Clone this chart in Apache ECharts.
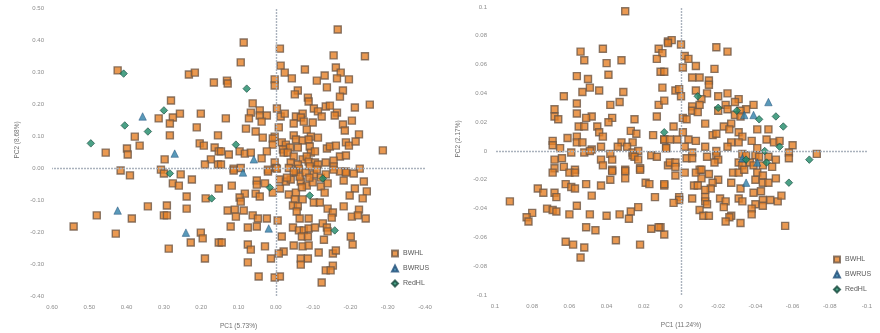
<!DOCTYPE html>
<html><head><meta charset="utf-8">
<style>html,body{margin:0;padding:0;background:#fff}#main{width:880px;height:333px;filter:blur(0.55px)}</style>
<script src="https://cdn.jsdelivr.net/npm/echarts@6/dist/echarts.min.js"></script>
</head><body><div id="main"></div>
<script>
const groupNames=['BWHL','BWRUS','RedHL'];
const leftXTicks=['-0.40','-0.30','-0.20','-0.10','0.00','0.10','0.20','0.30','0.40','0.50','0.60'];
const leftYTicks=['-0.40','-0.30','-0.20','-0.10','0.00','0.10','0.20','0.30','0.40','0.50'];
const rightTicks=['-0.1','-0.08','-0.06','-0.04','-0.02','0','0.02','0.04','0.06','0.08','0.1'];
const leftBWHL=[[.424,.305],[.233,.292],[.217,.298],[.166,.267],[.281,.211],[.257,.170],[.276,.158],[.314,.155],[.284,.139],[.201,.170],[.212,.127],[.378,.098],[.284,.102],[.365,.070],[.399,.061],[.397,.042],[.456,.048],[.155,.102],[.204,.077],[.193,.070],[.164,.064],[.153,.052],[.298,.027],[.174,.027],[.190,.011],[.155,.011],[.416,-.008],[.391,-.023],[.308,-.005],[.300,-.017],[.255,-.020],[.225,-.036],[.276,-.048],[.260,-.055],[.239,-.089],[.188,-.095],[.153,-.064],[.343,-.120],[.292,-.117],[.239,-.127],[.480,-.148],[.386,-.158],[.300,-.148],[.292,-.148],[.542,-.183],[.429,-.205],[.201,-.202],[.196,-.220],[.228,-.233],[.153,-.233],[.287,-.252],[.190,-.283],
[-.166,.433],[.086,.392],[-.011,.373],[-.155,.352],[-.239,.349],[.094,.330],[-.013,.320],[-.024,.298],[-.078,.308],[-.161,.314],[-.174,.298],[-.043,.280],[.003,.277],[.003,.258],[.131,.273],[.129,.264],[-.110,.273],[-.131,.289],[-.164,.280],[-.196,.277],[-.137,.252],[-.180,.242],[-.172,.223],[-.059,.242],[-.051,.230],[-.086,.220],[-.088,.208],[-.252,.198],[-.212,.189],[.062,.202],[-.003,.186],[.043,.180],[.067,.173],[.043,.164],[.024,.164],[.072,.155],[.134,.155],[.038,.145],[-.013,.161],[-.024,.170],[-.102,.186],[-.113,.177],[-.123,.161],[-.134,.192],[-.145,.195],[-.164,.173],[-.158,.164],[-.054,.161],[-.072,.170],[-.067,.158],[-.075,.145],[-.048,.139],[-.099,.142],[-.204,.148],[-.180,.136],[-.185,.117],[.080,.123],[.054,.114],[-.008,.127],[-.083,.120],[-.223,.105],[.035,.095],[.003,.098],[.008,.092],[-.048,.102],[-.054,.089],[-.072,.086],[-.094,.098],[-.088,.089],[-.113,.095],[-.188,.080],[-.196,.070],[-.214,.083],[.008,.073],[-.016,.080],[-.027,.073],[-.059,.064],[-.038,.064],[-.019,.058],[-.021,.048],[-.032,.048],[-.091,.067],[-.094,.048],[-.105,.052],[-.137,.061],[-.145,.067],[-.161,.070],[-.287,.055],[.097,.052],[.126,.042],[.147,.052],[.083,.045],[.067,.048],[.024,.052],[.038,.030],[-.172,.036],[-.188,.039],[-.048,.036],[-.072,.027],[-.083,.036],[-.088,.020],[-.105,.017],[-.134,.017],[-.155,.023],[.003,.017],[-.040,.017],[-.059,.011],[0,0],[-.035,0],[-.062,-.002],[-.091,.005],[-.113,.011],[-.155,.005],[-.225,-.002],[.094,0],[.113,-.002],[.147,.011],[.021,-.005],
[.113,-.008],[.051,-.039],[.051,-.052],[.118,-.055],[.021,-.011],[-.003,-.002],[-.011,-.036],[-.011,-.064],[.008,-.077],[.029,-.048],[.083,-.080],[.097,-.092],[.094,-.105],[.054,-.080],[.043,-.089],[-.027,-.042],[-.040,-.036],[-.054,-.014],[-.067,-.042],[-.083,-.055],[-.099,-.045],[-.121,-.030],[-.121,-.058],[-.139,-.048],[-.131,-.077],[-.035,-.083],[-.054,-.077],[-.051,-.098],[-.072,-.098],[-.046,-.117],[-.059,-.120],[-.056,-.136],[-.102,-.108],[-.118,-.108],[-.182,-.120],[-.139,-.127],[-.153,-.139],[-.150,-.155],[-.236,-.042],[-.212,-.064],[-.198,-.086],[-.244,-.073],[-.233,-.095],[-.182,-.039],[-.172,-.011],[-.188,-.011],[-.209,-.017],[-.223,-.130],[-.204,-.152],[-.220,-.148],[-.241,-.158],[.129,-.133],[.110,-.130],[.086,-.133],[.107,-.152],[.062,-.148],[.048,-.158],[.024,-.158],[-.005,-.164],[.121,-.183],[.075,-.186],[.051,-.183],[-.064,-.158],[-.088,-.158],[-.046,-.186],[-.062,-.195],[-.075,-.195],[-.088,-.189],[-.105,-.186],[-.126,-.173],[-.137,-.186],[-.139,-.198],[-.070,-.214],[-.086,-.214],[-.129,-.224],[-.016,-.214],[.145,-.233],[.075,-.239],[.067,-.255],[.029,-.245],[-.048,-.242],[-.072,-.245],[-.088,-.242],[-.115,-.264],[-.021,-.261],[-.008,-.267],[.013,-.283],[.075,-.295],[-.067,-.283],[-.086,-.283],[-.067,-.302],[-.153,-.267],[-.161,-.258],[-.201,-.214],[-.206,-.239],[-.153,-.305],[-.134,-.320],[-.147,-.320],[.046,-.339],[.003,-.342],[-.011,-.339],[-.123,-.358],
[-.064,-.027],[-.048,-.011],[-.080,-.014],[-.102,-.020],[-.134,-.020],[-.188,-.014],[-.155,-.005],[-.030,-.030],[-.090,-.030],[-.070,-.060],[-.110,-.005]];
const leftBWRUS=[[.357,.161],[.271,.045],[.059,.027],[.424,-.133],[.241,-.202],[.019,-.189],[.088,-.014]];
const leftRedHL=[[.408,.295],[.300,.180],[.405,.133],[.343,.114],[.496,.077],[.284,-.017],[.172,-.095],[.078,.248],[.107,.073],[.016,-.061],[-.091,-.086],[-.126,-.033],[-.158,-.195]];
const rightBWHL=[[.030,.097],[.054,.069],[.042,.071],[.052,.063],[.040,.061],[.032,.063],[.012,.071],[.010,.068],[.013,.064],[.007,.076],[.056,.052],[.050,.050],[.039,.053],[.011,.055],[.009,.055],[.049,.044],[.053,.041],[.044,.042],[.031,.041],[.063,.038],[.010,.044],[.056,.033],[.033,.034],[.038,.032],[.012,.032],[.009,.035],[.068,.029],[.068,.024],[.066,.022],[.056,.026],[.048,.024],[.051,.023],[.037,.023],[.039,.020],[.025,.022],[.013,.024],[.055,.017],[.052,.017],[.045,.017],[.044,.013],[.042,.010],[.027,.014],[.024,.012],[.015,.011],[.061,.009],[.056,.010],[.069,.007],[.069,.004],[.065,.002],[.056,.006],[.053,.006],[.032,.006],[.026,.006],[.048,.001],[.043,.003],[.034,.003],[.029,.003],[.009,.008],[.008,.002],[.052,-.001],[.049,0],[.059,-.001],[.026,-.001],[.023,0],[.026,-.003],[.038,-.002],[.025,-.004],[.016,-.003],[.013,-.004],[.064,-.005],[.068,-.006],[.043,-.006],[.037,-.006],[.023,-.006],[.042,-.010],[.007,-.010],[.068,-.012],[.063,-.011],[.057,-.013],[.037,-.013],[.030,-.013],[.022,-.012],
[.005,.077],[.007,.075],[0,.074],[-.019,.072],[-.025,.069],[-.002,.066],[-.004,.064],[-.008,.059],[-.001,.058],[-.018,.057],[-.006,.051],[-.010,.051],[-.015,.049],[-.015,.046],[.003,.042],[.001,.043],[0,.038],[-.008,.042],[-.014,.040],[-.020,.038],[-.025,.040],[-.011,.036],[-.010,.032],[-.006,.031],[-.006,.028],[-.009,.027],[-.031,.036],[-.029,.034],[-.024,.032],[-.025,.029],[-.020,.028],[-.039,.032],[-.035,.029],[-.032,.028],[-.029,.025],[-.032,.024],[-.001,.023],[-.003,.022],[-.013,.019],[-.023,.017],[-.027,.019],[-.026,.015],[-.041,.015],[-.047,.015],[.004,.017],[-.001,.013],[-.031,.013],[-.033,.010],[-.017,.011],[-.019,.012],[.009,.008],[.006,.008],[.002,.008],[-.004,.008],[-.008,.007],[-.027,.006],[-.031,.006],[-.038,.007],[-.046,.008],[-.050,.006],[-.053,.007],[-.060,.004],[.008,.002],[-.002,.003],[-.013,.003],[-.025,.003],[-.019,0],[-.041,.002],[-.058,-.001],[-.058,-.005],[-.073,-.002],[-.006,-.001],[-.003,-.005],[-.006,-.005],[-.014,-.004],[-.019,-.003],[-.020,-.006],[-.018,-.008],[-.031,-.008],[-.033,-.002],[-.035,-.003],[-.040,-.003],[-.042,-.004],[-.047,-.004],[-.051,-.006],[-.037,-.008],[.006,-.008],[.003,-.008],[.003,-.011],[-.010,-.013],[-.033,-.010],[-.039,-.010],[-.049,-.011],[-.044,-.010],
[.003,-.017],[-.002,-.015],[-.008,-.015],[-.011,-.013],[-.015,-.016],[-.011,-.019],[-.020,-.020],[-.017,-.022],[.009,-.024],[-.007,-.024],[-.009,-.024],[-.016,-.026],[-.013,-.027],[-.027,-.022],[-.028,-.015],[-.031,-.015],[-.032,-.026],[-.034,-.013],[-.041,-.015],[-.044,-.017],[-.040,-.020],[-.044,-.022],[-.047,-.022],[-.051,-.019],[-.039,-.029],[-.043,-.028],[.001,-.032],[.001,-.034],[.004,-.036],[-.006,-.033],[-.013,-.032],[-.013,-.035],[-.014,-.037],[-.021,-.033],[-.024,-.035],[-.023,-.039],[-.031,-.033],[-.033,-.035],[-.044,-.034],[-.048,-.034],[-.052,-.035],[-.054,-.031],[-.040,-.037],[-.044,-.038],[-.038,-.040],[-.038,-.044],[-.010,-.041],[-.012,-.045],[-.015,-.045],[-.027,-.045],[-.026,-.046],[-.024,-.049],[-.032,-.050],[-.056,-.052],[.009,-.058],[.011,-.053],
[.069,-.015],[.060,-.015],[.057,-.015],[.037,-.014],[.030,-.014],[.022,-.013],[.038,-.020],[.030,-.019],[.062,-.023],[.059,-.025],[.057,-.026],[.051,-.023],[.043,-.024],[.019,-.022],[.017,-.023],[.009,-.023],[.077,-.026],[.074,-.029],[.068,-.029],[.067,-.032],[.048,-.031],[.014,-.032],[.092,-.035],[.056,-.038],[.072,-.040],[.069,-.041],[.067,-.042],[.060,-.044],[.049,-.044],[.040,-.045],[.033,-.044],[.080,-.043],[.083,-.046],[.082,-.049],[.023,-.039],[.027,-.042],[.028,-.047],[.051,-.053],[.046,-.055],[.016,-.054],[.012,-.053],[.062,-.063],[.058,-.065],[.052,-.067],[.035,-.062],[.022,-.065],[.054,-.074]];
const rightBWRUS=[[-.047,.034],[-.039,.025],[-.034,.025],[-.033,-.005],[-.041,-.008],[-.035,-.022]];
const rightRedHL=[[-.009,.038],[-.020,.030],[-.030,.028],[-.042,.022],[-.051,.024],[-.055,.017],[.009,.013],[-.053,.003],[-.045,0],[-.069,-.006],[-.058,-.022],[-.046,-.008],[-.035,-.006]];

const labelStyle={color:'#8c8c8c',fontSize:6,fontFamily:'Liberation Sans'};
const nameStyle={color:'#6f6f6f',fontSize:6.5,fontFamily:'Liberation Sans'};
const looks=[
 {symbol:'rect',symbolSize:7,itemStyle:{color:'#e57f26',borderColor:'#6e5846',borderWidth:1.4}},
 {symbol:'triangle',symbolSize:7.5,itemStyle:{color:'#2f7fa8',borderColor:'#1f4e79',borderWidth:.6}},
 {symbol:'diamond',symbolSize:7.5,itemStyle:{color:'#1e8a68',borderColor:'#15493c',borderWidth:.8}}
];
function xAxis(idx,min,max,interval,ticks,name){return {gridIndex:idx,type:'value',inverse:true,min,max,interval,
  axisLine:{show:false},axisTick:{show:false},splitLine:{show:false},
  axisLabel:{...labelStyle,margin:8,formatter:v=>ticks[Math.round((v-min)/interval)],showMinLabel:true,showMaxLabel:true},
  name,nameLocation:'middle',nameGap:27,nameTextStyle:nameStyle};}
function yAxis(idx,min,max,interval,ticks,name,gap){return {gridIndex:idx,type:'value',min,max,interval,
  axisLine:{show:false},axisTick:{show:false},splitLine:{show:false},
  axisLabel:{...labelStyle,margin:8,formatter:v=>ticks[Math.round((v-min)/interval)],showMinLabel:true,showMaxLabel:true},
  name,nameLocation:'middle',nameGap:gap,nameRotate:90,nameTextStyle:{...nameStyle,padding:[0,0,0,24]}};}
function guides(idx){return {type:'scatter',xAxisIndex:idx,yAxisIndex:idx,data:[],z:1,silent:true,
  markLine:{silent:true,symbol:'none',label:{show:false},animation:false,
    lineStyle:{color:'#aab2bd',type:[2,1],width:1.4},data:[{xAxis:0},{yAxis:0}]}};}
function marks(idx,name,data,k){return {type:'scatter',name,xAxisIndex:idx,yAxisIndex:idx,data,z:3+(k>0?1:0),animation:false,...looks[k]};}
function legend(left,top){return {orient:'vertical',left,top,padding:0,itemWidth:6,itemHeight:6,itemGap:7,selectedMode:false,
  textStyle:{color:'#595959',fontSize:7,fontFamily:'Liberation Sans'},
  data:groupNames.map((n,k)=>({name:n,icon:looks[k].symbol}))};}

const chart=echarts.init(document.getElementById('main'),null,{renderer:'canvas'});
chart.setOption({animation:false,backgroundColor:'#fff',
 grid:[{left:52,top:8,width:373,height:288,outerBoundsMode:'none'},{left:495,top:7,width:372,height:288,outerBoundsMode:'none'}],
 xAxis:[xAxis(0,-0.4,0.6,0.1,leftXTicks,'PC1 (5.73%)'),xAxis(1,-0.1,0.1,0.02,rightTicks,'PC1 (11.24%)')],
 yAxis:[yAxis(0,-0.4,0.5,0.1,leftYTicks,'PC2 (8.68%)',31),yAxis(1,-0.1,0.1,0.02,rightTicks,'PC2 (2.17%)',33)],
 legend:[legend(391,249.5),legend(833,255.5)],
 series:[guides(0),guides(1),
  marks(0,groupNames[0],leftBWHL,0),marks(0,groupNames[1],leftBWRUS,1),marks(0,groupNames[2],leftRedHL,2),
  marks(1,groupNames[0],rightBWHL,0),marks(1,groupNames[1],rightBWRUS,1),marks(1,groupNames[2],rightRedHL,2)]
});
</script></body></html>
